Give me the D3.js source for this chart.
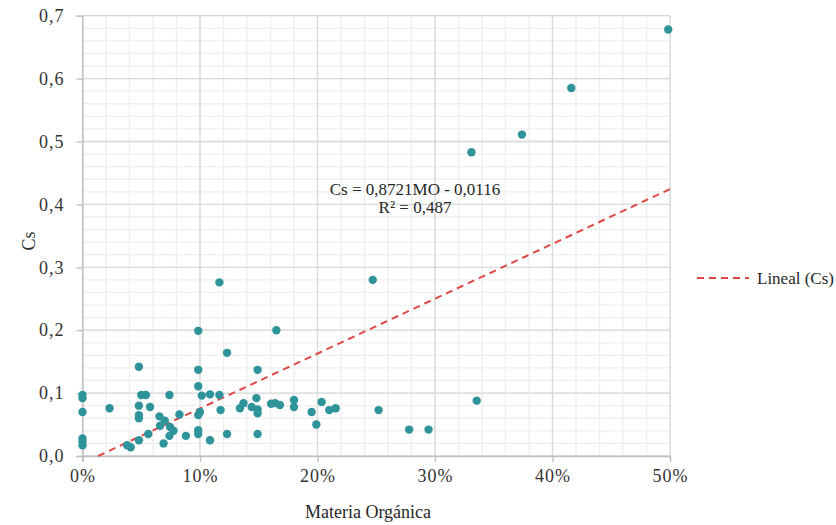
<!DOCTYPE html>
<html><head><meta charset="utf-8">
<script src="https://cdn.jsdelivr.net/npm/d3@7"></script>
<style>body{margin:0;background:#fff}svg{display:block}text{font-family:"Liberation Serif","Times New Roman",serif !important}</style>
</head><body><svg id="c" width="836" height="525"></svg>
<script>
const mo = [0,0,0,0,0,0,2.3,3.8,4.1,4.8,5.0,5.4,4.8,4.8,4.8,4.8,5.6,5.75,6.55,7.0,6.6,7.45,7.75,7.4,6.9,7.4,8.25,8.8,9.85,9.85,9.85,10.15,10.85,11.65,10.0,9.85,11.75,9.85,9.85,10.85,12.3,12.3,11.65,13.4,13.7,14.4,14.8,14.9,14.9,14.9,14.9,16.05,16.4,16.8,16.5,18.0,18.0,19.5,19.9,20.35,21.0,21.55,24.7,25.2,27.8,29.45,33.1,33.55,37.4,41.6,49.85].map(v=>v/100);
const cs = [0.097,0.092,0.070,0.028,0.023,0.017,0.076,0.017,0.014,0.142,0.097,0.097,0.080,0.065,0.060,0.025,0.035,0.078,0.063,0.056,0.048,0.046,0.040,0.032,0.020,0.097,0.066,0.032,0.199,0.137,0.111,0.096,0.098,0.097,0.070,0.065,0.073,0.041,0.035,0.025,0.035,0.164,0.276,0.076,0.084,0.078,0.092,0.074,0.068,0.137,0.035,0.083,0.084,0.081,0.200,0.089,0.078,0.070,0.050,0.086,0.073,0.076,0.280,0.073,0.042,0.042,0.483,0.088,0.511,0.585,0.678];
const xTicks = [0,0.1,0.2,0.3,0.4,0.5];
const yTicks = [0,0.1,0.2,0.3,0.4,0.5,0.6,0.7];
const slope = 0.8721, intercept = -0.0116;
const eqText = "Cs = 0,8721MO - 0,0116";
const r2Text = "R² = 0,487";
const legendText = "Lineal (Cs)";
const xTitle = "Materia Orgánica", yTitle = "Cs";

const FF = '"Liberation Serif", "Times New Roman", serif';
const svg = d3.select("#c");
const L=82.5, R=670, T=15.7, B=456;
const x = d3.scaleLinear().domain([0,0.5]).range([L,R]);
const y = d3.scaleLinear().domain([0,0.7]).range([B,T]);
const g = svg.append("g");
const xMinor = d3.range(0,0.5001,0.02), yMinor = d3.range(0,0.7001,0.02);
g.selectAll(".xm").data(xMinor).join("line").attr("x1",d=>x(d)).attr("x2",d=>x(d)).attr("y1",T).attr("y2",B).attr("stroke","#efefef").attr("stroke-width",1.3);
g.selectAll(".ym").data(yMinor).join("line").attr("y1",d=>y(d)).attr("y2",d=>y(d)).attr("x1",L).attr("x2",R).attr("stroke","#efefef").attr("stroke-width",1.3);
g.selectAll(".xM").data(xTicks).join("line").attr("x1",d=>x(d)).attr("x2",d=>x(d)).attr("y1",T).attr("y2",B).attr("stroke","#d9d9d9").attr("stroke-width",1.3);
g.selectAll(".yM").data(yTicks).join("line").attr("y1",d=>y(d)).attr("y2",d=>y(d)).attr("x1",L).attr("x2",R).attr("stroke","#d9d9d9").attr("stroke-width",1.3);
const fmtY = d=>d3.format(".1f")(d).replace(".",",");
const xa = svg.append("g").attr("transform",`translate(0,${B})`).call(d3.axisBottom(x).tickValues(xTicks).tickFormat(d=>Math.round(d*100)+"%").tickSize(6).tickPadding(7));
const ya = svg.append("g").attr("transform",`translate(${L},0)`).call(d3.axisLeft(y).tickValues(yTicks).tickFormat(fmtY).tickSize(6).tickPadding(12));
[xa,ya].forEach(a=>{a.attr("font-family",FF).attr("font-size",18);a.select(".domain").attr("stroke","#bfbfbf").attr("stroke-width",1.3);a.selectAll(".tick line").attr("stroke","#bfbfbf").attr("stroke-width",1.3);a.selectAll("text").attr("fill","#333").attr("letter-spacing","1px");});
const x0 = -intercept/slope;
svg.append("line").attr("x1",x(x0)).attr("y1",y(0)).attr("x2",x(0.5)).attr("y2",y(slope*0.5+intercept)).attr("stroke","#e04848").attr("stroke-width",2).attr("stroke-dasharray","7,5");
svg.selectAll(".p").data(mo.map((m,i)=>[m,cs[i]])).join("circle").attr("cx",d=>x(d[0])).attr("cy",d=>y(d[1])).attr("r",4.2).attr("fill","#2e9499");
const t = (xx,yy,s,anchor,size)=>svg.append("text").attr("x",xx).attr("y",yy).attr("text-anchor",anchor).attr("font-family",FF).attr("font-size",size).attr("fill","#262626").text(s);
t(415,195,eqText,"middle",17);
t(415,213,r2Text,"middle",17);
svg.append("line").attr("x1",697).attr("x2",749).attr("y1",278).attr("y2",278).attr("stroke","#e04848").attr("stroke-width",2).attr("stroke-dasharray","7,5");
t(757,284,legendText,"start",17);
t(368,518,xTitle,"middle",18);
svg.append("text").attr("transform","translate(35,241) rotate(-90)").attr("text-anchor","middle").attr("font-family",FF).attr("font-size",18).attr("fill","#333").text(yTitle);
</script></body></html>
